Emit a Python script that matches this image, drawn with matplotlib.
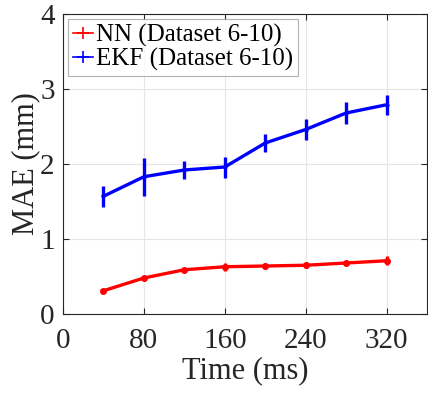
import numpy as np
import matplotlib.pyplot as plt
from matplotlib.lines import Line2D

plt.rcParams['font.family'] = ['Liberation Serif', 'DejaVu Serif']

# Horizon (ms)
t = [40, 80, 120, 160, 200, 240, 280, 320]

# MAE (mm) and error bar half-width
nn_mae = [0.31, 0.48, 0.59, 0.63, 0.64, 0.65, 0.68, 0.71]
nn_err = [0.02, 0.02, 0.03, 0.05, 0.04, 0.04, 0.03, 0.06]
ekf_mae = [1.57, 1.83, 1.92, 1.96, 2.28, 2.46, 2.68, 2.79]
ekf_err = [0.14, 0.25, 0.12, 0.14, 0.12, 0.14, 0.14, 0.13]

fig = plt.figure(figsize=(4.28, 3.93), dpi=100)
ax = fig.add_axes([63/428, 1-314/393, 364/428, 300/393])

ax.errorbar(t, nn_mae, yerr=nn_err, color='red', lw=2.4, marker='.', ms=8,
            elinewidth=2.4, capsize=0)
ax.errorbar(t, ekf_mae, yerr=ekf_err, color='blue', lw=2.4, marker='.', ms=4,
            elinewidth=2.4, capsize=0)

ax.set_xlim(0, 360)
ax.set_ylim(0, 4)
ax.set_xticks([0, 80, 160, 240, 320])
ax.set_yticks([0, 1, 2, 3, 4])
ax.grid(True, color='#e6e6e6', lw=0.8)
ax.set_axisbelow(True)
ax.tick_params(direction='in', labelsize=21, length=4, color='#262626',
               labelcolor='#262626', top=True, right=True)
ax.tick_params(axis='x', pad=10)
ax.tick_params(axis='y', pad=6)
for s in ax.spines.values():
    s.set_color('#262626')
    s.set_linewidth(0.8)

ax.set_xlabel('Time (ms)', fontsize=22, color='#262626', labelpad=2)
ax.set_ylabel('MAE (mm)', fontsize=22, color='#262626', labelpad=0)

handles = [Line2D([], [], color='red', lw=1.2, marker='+', ms=9, mew=1.2),
           Line2D([], [], color='blue', lw=1.2, marker='+', ms=9, mew=1.2)]
labels = ['NN (Dataset 6-10)', 'EKF (Dataset 6-10)']
leg = ax.legend(handles, labels, loc='upper left', fontsize=18, frameon=True,
                fancybox=False, borderpad=0.2, handlelength=0.8,
                handletextpad=0.1, labelspacing=0.05, borderaxespad=0.2,
                edgecolor='#a0a0a0')
leg.get_frame().set_linewidth(0.8)

fig.savefig('out.png', dpi=100)
